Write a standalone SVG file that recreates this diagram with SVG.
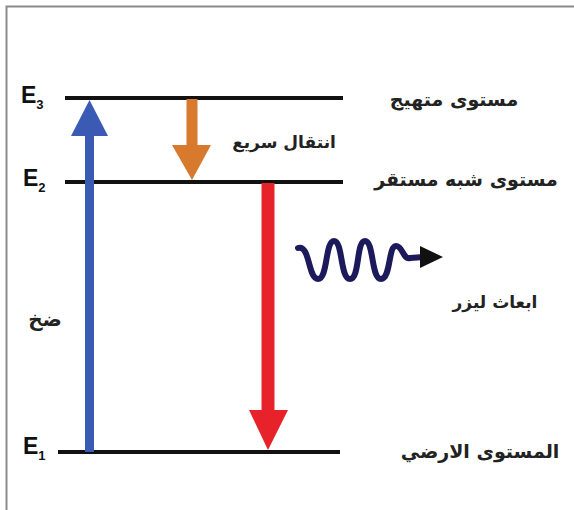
<svg xmlns="http://www.w3.org/2000/svg" width="574" height="510" viewBox="0 0 574 510">
<style>
.lvl{stroke:#111;stroke-width:4;fill:none}
.ar{font-family:"DejaVu Sans",sans-serif;font-weight:bold;font-size:19px;fill:#222;text-anchor:middle}
.e{font-family:"Liberation Sans",Arial,sans-serif;font-weight:bold;font-size:23px;fill:#111}
.sub{font-size:13px}
</style>
<rect width="574" height="510" fill="#fff"/>
<rect x="6.5" y="6.5" width="620" height="620" fill="none" stroke="#8a8a8a" stroke-width="2"/>
<g id="level-E3">
<line class="lvl" x1="65" y1="98" x2="343" y2="98"/>
<text class="e" x="21" y="103">E<tspan class="sub" dy="6">3</tspan></text>
<text class="ar" x="454" y="106">مستوى متهيج</text>
</g>
<g id="level-E2">
<line class="lvl" x1="65" y1="182" x2="343" y2="182"/>
<text class="e" x="23" y="186">E<tspan class="sub" dy="6">2</tspan></text>
<text class="ar" x="466" y="186">مستوى شبه مستقر</text>
</g>
<g id="level-E1">
<line class="lvl" x1="58" y1="452" x2="340" y2="452"/>
<text class="e" x="23" y="454">E<tspan class="sub" dy="6">1</tspan></text>
<text class="ar" x="480" y="458">المستوى الارضي</text>
</g>
<g id="connectors">
<g id="pump">
<rect x="85" y="130" width="9" height="322" fill="#3a5ab4"/>
<polygon points="89.5,100 71,136 108,136" fill="#3a5ab4"/>
<text class="ar" x="45" y="326" style="font-size:20px">ضخ</text>
</g>
<g id="fast-transition">
<rect x="186.5" y="99" width="11" height="48" fill="#d77a2e"/>
<polygon points="172,145 211,145 192,180" fill="#d77a2e"/>
<text class="ar" x="284" y="148" style="font-size:17px">انتقال سريع</text>
</g>
<g id="laser-transition">
<rect x="261.5" y="183" width="13" height="230" fill="#e8222a"/>
<polygon points="249,410 288,410 268,450" fill="#e8222a"/>
</g>
<g id="emission">
<path d="M298,248 C310,244 308,279 318,279 C328,279 325,241 334,241 C343,241 340,279 350,279 C360,279 356,241 365,241 C374,241 371,279 381,279 C391,279 388,246 396,246 C403,246 403,260 410,258 L424,257" fill="none" stroke="#1c1a5a" stroke-width="6" stroke-linecap="round" stroke-linejoin="round"/>
<polygon points="420,246 443,257 420,268" fill="#111"/>
<text class="ar" x="495" y="308" style="font-size:17px">ابعاث ليزر</text>
</g>
</g>
</svg>
